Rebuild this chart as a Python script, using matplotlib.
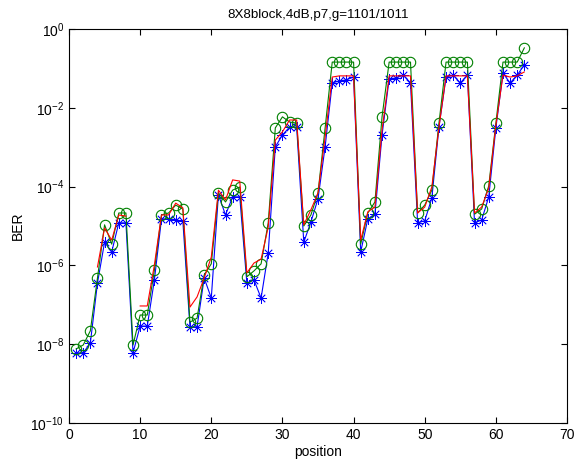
import numpy as np
import matplotlib
matplotlib.use('Agg')
from matplotlib import pyplot as plt
from matplotlib.ticker import FixedLocator, FuncFormatter, NullLocator

plt.rcParams['font.family'] = ['Liberation Sans', 'DejaVu Sans']
plt.rcParams['mathtext.fontset'] = 'custom'
plt.rcParams['mathtext.rm'] = 'Liberation Sans'
plt.rcParams['mathtext.it'] = 'Liberation Sans'

position = np.arange(1, 65)

# log10(BER)
green_log = [-8.12, -8.02, -7.66, -6.32, -4.97, -5.46, -4.67, -4.67,
             -8.02, -7.26, -7.26, -6.12, -4.72, -4.67, -4.47, -4.57,
             -7.44, -7.34, -6.24, -5.96, -4.16, -4.39, -4.09, -4.01,
             -6.29, -6.14, -5.96, -4.92, -2.51, -2.23, -2.36, -2.39,
             -5.00, -4.72, -4.16, -2.51, -0.84, -0.84, -0.84, -0.84,
             -5.46, -4.67, -4.39, -2.23, -0.84, -0.84, -0.84, -0.84,
             -4.67, -4.47, -4.09, -2.39, -0.84, -0.84, -0.84, -0.84,
             -4.70, -4.57, -3.98, -2.39, -0.84, -0.84, -0.84, -0.48]

blue_log = [-8.22, -8.22, -7.97, -6.45, -5.41, -5.66, -4.92, -4.92,
            -8.22, -7.54, -7.54, -6.37, -4.82, -4.82, -4.85, -4.87,
            -7.56, -7.56, -6.32, -6.83, -4.21, -4.72, -4.26, -4.26,
            -6.45, -6.37, -6.83, -5.69, -2.99, -2.69, -2.49, -2.49,
            -5.41, -4.90, -4.31, -2.99, -1.37, -1.32, -1.29, -1.22,
            -5.66, -4.82, -4.70, -2.69, -1.27, -1.24, -1.17, -1.37,
            -4.92, -4.87, -4.29, -2.49, -1.22, -1.17, -1.37, -1.17,
            -4.92, -4.85, -4.26, -2.51, -1.12, -1.37, -1.17, -0.91]

# red has no value (zero BER) at a few positions
red_log = [np.nan, np.nan, np.nan, -6.04, -5.05, -5.36, -4.72, -4.75,
           np.nan, -7.03, -7.03, -5.99, -4.72, -4.72, -4.42, -4.54,
           -7.06, -6.80, -6.32, -5.79, -4.09, -4.34, -3.83, -3.86,
           -6.19, -5.94, -5.84, -5.03, -2.82, -2.61, -2.31, -2.31,
           -4.97, -4.59, -4.16, -2.74, -1.22, -1.19, -1.19, -1.19,
           -5.36, -4.64, -4.52, -2.56, -1.19, -1.19, -1.19, -1.19,
           -4.67, -4.52, -4.01, -2.49, -1.19, -1.19, -1.19, -1.19,
           -4.67, -4.52, -4.04, -2.44, -1.17, -1.22, -1.19, -1.09]

ber_green = 10.0 ** np.array(green_log)
ber_blue = 10.0 ** np.array(blue_log)
ber_red = 10.0 ** np.array(red_log)

fig = plt.figure(figsize=(5.76, 4.66), dpi=100)
ax = fig.add_axes([0.1198, 0.0923, 0.8646, 0.8455])

ax.plot(position, ber_blue, color='#0000ff', lw=0.8, marker=(8, 2, 0),
        ms=7.5, mew=0.55)
ax.plot(position, ber_green, color='#008000', lw=0.8, marker='o', ms=7.5,
        mfc='none', mew=0.8)
ax.plot(position, ber_red, color='#ff0000', lw=0.8)

ax.set_yscale('log')
ax.set_xlim(0, 70)
ax.set_ylim(1e-10, 1e0)
ax.xaxis.set_major_locator(FixedLocator(np.arange(0, 71, 10)))
ax.yaxis.set_major_locator(FixedLocator([1e-10, 1e-8, 1e-6, 1e-4, 1e-2, 1e0]))
ax.yaxis.set_minor_locator(NullLocator())
ax.yaxis.set_major_formatter(FuncFormatter(
    lambda v, p: r'$10^{%d}$' % int(round(np.log10(v)))))

ax.tick_params(direction='in', top=True, right=True, length=4, width=0.8,
               labelsize=10, colors='black')
for s in ax.spines.values():
    s.set_linewidth(0.8)

ax.set_title('8X8block,4dB,p7,g=1101/1011', fontsize=9.6, pad=8)
ax.set_xlabel('position', fontsize=10, labelpad=2)
ax.set_ylabel('BER', fontsize=10, labelpad=4)

fig.savefig('out.png', dpi=100)
